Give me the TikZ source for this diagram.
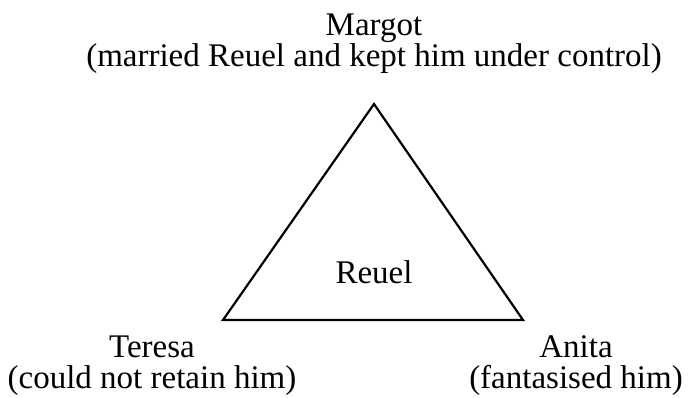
\documentclass[tikz,border=0pt]{standalone}
\usepackage{fontspec}
\setmainfont{Liberation Serif}
\usetikzlibrary{positioning}
\tikzset{
  rolebox/.style={align=center, inner sep=0pt, anchor=base,
                  font=\fontsize{16.5}{15.5}\selectfont},
  hubtext/.style={inner sep=0pt, anchor=base, font=\fontsize{16.5}{15.5}\selectfont},
  side/.style={line width=1.1pt, line join=miter}}

\begin{document}
\begin{tikzpicture}[x=0.5pt, y=-0.5pt]
    \useasboundingbox (0,0) rectangle (688,397);
    \coordinate (top) at (374,104);
    \coordinate (bl) at (223,320);
    \coordinate (br) at (523,320);
    \draw[side] (top) -- (bl) -- (br) -- cycle;
    \node[hubtext] (reuel) at (374,283) {Reuel};
    % anchor=base sits on the last line
    \node[rolebox] (margot) at (374,66)
      {Margot\\(married Reuel and kept him under control)};
    \node[rolebox] (teresa) at (152,388)
      {Teresa\\(could not retain him)};
    \node[rolebox] (anita) at (576,388)
      {Anita\\(fantasised him)};
  \end{tikzpicture}
\end{document}
